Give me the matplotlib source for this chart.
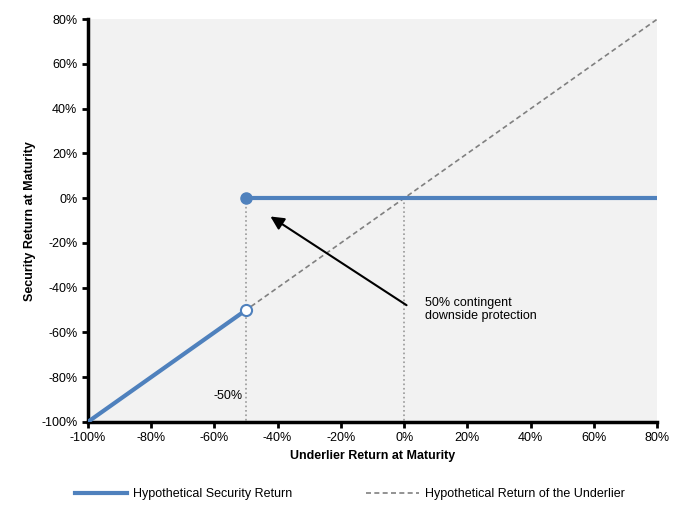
import numpy as np
import matplotlib.pyplot as plt
from matplotlib.lines import Line2D

plt.rcParams['font.family'] = ['Liberation Sans', 'DejaVu Sans']

# ---- data (returns in %) ----
security_x = [-100, -50]
security_y = [-100, -50]
protected_x = [-50, 80]
protected_y = [0, 0]
underlier_x = [-100, 80]
underlier_y = [-100, 80]
barrier = -50
ticks = [-100, -80, -60, -40, -20, 0, 20, 40, 60, 80]

blue = "#4f81bd"
gray = "#808080"

fig = plt.figure(figsize=(6.86, 5.19), dpi=100)
ax = fig.add_axes([0.128, 0.187, 0.830, 0.776])
ax.set_facecolor("#f2f2f2")

# underlier (dashed)
ax.plot(underlier_x, underlier_y, color=gray, ls=(0, (3, 2)), lw=1.2, zorder=2)

# guide lines
ax.plot([barrier, barrier], [0, -100], color="#999999", ls=":", lw=1.2, zorder=1)
ax.plot([0, 0], [0, -100], color="#999999", ls=":", lw=1.2, zorder=1)

# security return
ax.plot(security_x, security_y, color=blue, lw=3, solid_capstyle="butt", zorder=3)
ax.plot(protected_x, protected_y, color=blue, lw=3, solid_capstyle="butt", zorder=3)
ax.plot([barrier], [0], "o", color=blue, ms=8, zorder=4)
ax.plot([barrier], [barrier], "o", mfc="white", mec=blue, mew=1.5, ms=8, zorder=4)

# annotation
ax.annotate("", xy=(-43, -7.5), xytext=(1.5, -48.5),
            arrowprops=dict(arrowstyle="-|>", color="black", lw=1.5,
                            mutation_scale=20), zorder=5)
ax.text(6.5, -44.0, "50% contingent\ndownside protection", fontsize=9,
        va="top", ha="left", linespacing=1.15)
ax.text(-51, -88.5, "-50%", fontsize=9, ha="right", va="center")

ax.set_xlim(-100, 80)
ax.set_ylim(-100, 80)
ax.set_xticks(ticks)
ax.set_yticks(ticks)
ax.set_xticklabels([f"{t}%" for t in ticks], fontsize=9)
ax.set_yticklabels([f"{t}%" for t in ticks], fontsize=9)
ax.tick_params(direction="out", length=4, width=2)

for s in ["top", "right"]:
    ax.spines[s].set_visible(False)
for s in ["left", "bottom"]:
    ax.spines[s].set_linewidth(2.5)

ax.set_xlabel("Underlier Return at Maturity", fontsize=9, fontweight="bold", labelpad=4)
ax.set_ylabel("Security Return at Maturity", fontsize=9, fontweight="bold", labelpad=4)

handles = [Line2D([], [], color=blue, lw=3),
           Line2D([], [], color=gray, ls=(0, (3, 2)), lw=1.2)]
fig.legend(handles, ["Hypothetical Security Return", "Hypothetical Return of the Underlier"],
           loc="center", bbox_to_anchor=(0.51, 0.048), ncol=2, frameon=False,
           fontsize=9, handlelength=4.2, handletextpad=0.5, columnspacing=5.9)

fig.savefig("out.png", dpi=100)
